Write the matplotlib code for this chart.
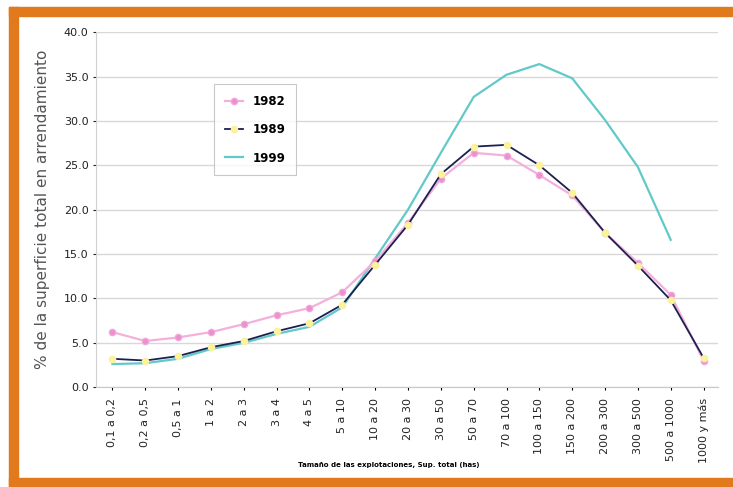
import numpy as np
import matplotlib.pyplot as plt
from matplotlib.patches import Rectangle

plt.rcParams['font.family'] = 'DejaVu Sans'

# Datos: porcentaje de la superficie en arrendamiento por tamaño de explotación
categorias = ['0,1 a 0,2', '0,2 a 0,5', '0,5 a 1', '1 a 2', '2 a 3', '3 a 4', '4 a 5',
              '5 a 10', '10 a 20', '20 a 30', '30 a 50', '50 a 70', '70 a 100',
              '100 a 150', '150 a 200', '200 a 300', '300 a 500', '500 a 1000', '1000 y más']

v1982 = [6.2, 5.2, 5.6, 6.2, 7.1, 8.1, 8.9, 10.7, 14.2, 18.5, 23.5, 26.4, 26.1,
         23.9, 21.6, 17.4, 14.0, 10.4, 3.0]
v1989 = [3.2, 3.0, 3.5, 4.5, 5.2, 6.3, 7.2, 9.3, 13.8, 18.3, 24.0, 27.1, 27.3,
         25.0, 21.9, 17.4, 13.7, 9.8, 3.3]
v1999 = [2.6, 2.7, 3.2, 4.3, 5.0, 6.0, 6.8, 9.0, 14.5, 20.0, 26.4, 32.7, 35.2,
         36.4, 34.8, 30.1, 24.8, 16.6]

fig = plt.figure(figsize=(7.33, 4.87), dpi=100)
fig.patch.set_facecolor('white')

# marco naranja
naranja = '#e07a1c'
fig.patches.append(Rectangle((0.012, 0.0), 0.013, 0.985, transform=fig.transFigure,
                             color=naranja, zorder=0))
fig.patches.append(Rectangle((0.012, 0.967), 0.988, 0.018, transform=fig.transFigure,
                             color=naranja, zorder=0))
fig.patches.append(Rectangle((0.012, 0.0), 0.988, 0.018, transform=fig.transFigure,
                             color=naranja, zorder=0))

ax = fig.add_axes([0.131, 0.205, 0.849, 0.729])
x = np.arange(len(categorias))

ax.plot(x, v1982, color='#f4b0dc', lw=1.6, marker='o', ms=4.5,
        mfc='#ec8fcf', mec='#f0a8d8', label='1982', zorder=3)
ax.plot(x, v1989, color='#1c2050', lw=1.3, marker='o', ms=4.5,
        mfc='#fbf59a', mec='#fbf0a0', label='1989', zorder=4)
ax.plot(np.arange(len(v1999)), v1999, color='#62c9c9', lw=1.6, label='1999', zorder=2)

ax.set_xlim(-0.5, 18.45)
ax.set_ylim(0, 40)
ax.set_yticks(np.arange(0, 41, 5))
ax.yaxis.set_major_formatter(plt.FormatStrFormatter('%.1f'))
ax.set_xticks(x)
ax.set_xticklabels(categorias, rotation=90, fontsize=8, color='#222222')
ax.tick_params(axis='y', labelsize=8, colors='#222222', length=2)
ax.tick_params(axis='x', length=2, pad=6)

ax.grid(axis='y', color='#d8d8d8', lw=1.0)
ax.set_axisbelow(True)
for s in ['top', 'right']:
    ax.spines[s].set_visible(False)
ax.spines['left'].set_color('#d0d0d0')
ax.spines['bottom'].set_color('#c8c8c8')

ax.set_ylabel('% de la superficie total en arrendamiento', fontsize=11,
              color='#555555', labelpad=10)
fig.text(0.53, 0.045, 'Tamaño de las explotaciones, Sup. total (has)',
         fontsize=5, fontweight='bold', ha='center', va='center')

leg = ax.legend(loc='upper left', bbox_to_anchor=(0.18, 0.87), frameon=True,
                fancybox=False, edgecolor='#bbbbbb', handlelength=1.6,
                labelspacing=1.3, borderpad=0.9, prop={'size': 8.5, 'weight': 'bold'})
leg.get_frame().set_linewidth(0.8)

fig.savefig('out.png', dpi=100)
